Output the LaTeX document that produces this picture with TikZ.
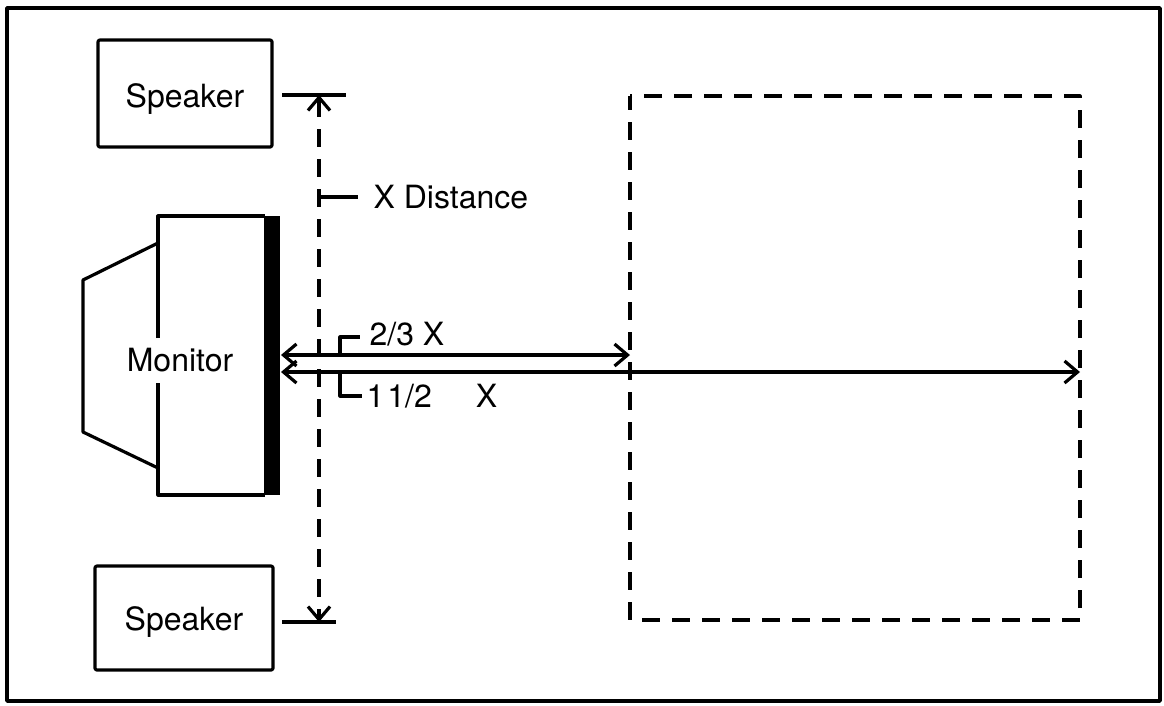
\documentclass[tikz,border=0pt]{standalone}
\usepackage{fontspec}
\setmainfont{TeX Gyre Heros}
\usetikzlibrary{arrows.meta}
\begin{document}
\begin{tikzpicture}[x=1pt,y=-1pt, line width=3.2pt, line join=round,
  lbl/.style={font=\fontsize{32}{36}\selectfont, inner sep=0pt},
  box/.style={draw, rounded corners=2pt},
  dashln/.style={dash pattern=on 18pt off 12pt},
  barb/.tip={Straight Barb[length=13pt,width=22pt]},
  dimarrow/.style={barb-barb}]
\useasboundingbox (0,0) rectangle (1164,705);
% outer frame
\draw[line width=3.4pt] (7,8) rectangle (1160,701);
% speakers
\draw[box] (98,40) rectangle (272,147);
\node[lbl, anchor=base] (spk1) at (185,107) {Speaker};
\draw[box] (95,566) rectangle (273,670);
\node[lbl, anchor=base] (spk2) at (184,630) {Speaker};
% monitor
\fill (264,216) rectangle (280,495);
\draw (158,338) -- (158,216) -- (265,216);
\draw (158,383) -- (158,495) -- (265,495);
\draw (158,243) -- (83,280) -- (83,432) -- (158,468);
\node[lbl, anchor=base] (mon) at (180,371) {Monitor};
% x distance dimension
\coordinate (t1a) at (282,95);
\coordinate (t1b) at (346,95);
\coordinate (t2a) at (282,622);
\coordinate (t2b) at (336,622);
\coordinate (xtop) at (319,95);
\coordinate (xbot) at (319,622);
\draw (t1a) -- (t1b);
\draw (t2a) -- (t2b);
\draw[dashln, dimarrow] (xtop) -- (xbot);
\node[lbl, anchor=base west] (xdist) at (372,208) {X Distance};
\coordinate (xl) at (321,197);
\draw (xl) -- (358,197);
% listening area
\draw[dashln, dash phase=4pt] (630,96) rectangle (1080,620);
% distance arrows
\coordinate (s1) at (281,355);
\coordinate (d1) at (630,355);
\coordinate (s2) at (281,372);
\coordinate (d2) at (1080,372);
\draw[dimarrow] (s1) -- (d1);
\draw[dimarrow] (s2) -- (d2);
\node[lbl, anchor=base west] (twothirds) at (368,345) {2/3 X};
\node[lbl, anchor=base west] (onehalf) at (365,407) {1\kern3pt1/2\hspace{44pt}X};
\draw (340,355) -- (340,337) -- (360,337);
\draw (340,372) -- (340,396) -- (362,396);
\end{tikzpicture}
\end{document}
